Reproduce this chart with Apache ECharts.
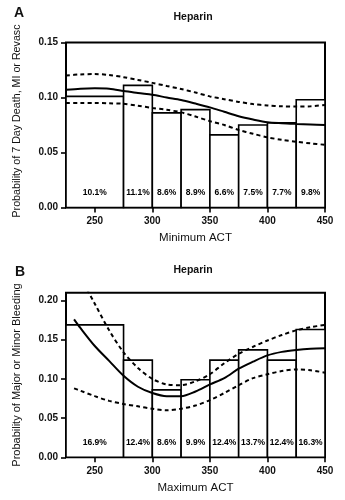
<!DOCTYPE html>
<html>
<head>
<meta charset="utf-8">
<script src="https://cdn.jsdelivr.net/npm/echarts@6.0.0/dist/echarts.min.js"></script>
<style>
  html, body { margin: 0; padding: 0; background: #fff; }
  #chart { width: 345px; height: 500px; }
</style>
</head>
<body>
<div id="chart"></div>
<script>
// ACT bins (seconds) shared by both panels
const binEdges = [225, 275, 300, 325, 350, 375, 400, 425, 450];

// Observed event rates per bin (%)
const minActRates = [10.1, 11.1, 8.6, 8.9, 6.6, 7.5, 7.7, 9.8];
const maxActRates = [16.9, 12.4, 8.6, 9.9, 12.4, 13.7, 12.4, 16.3];

// Panel A: fitted probability with 95% confidence band vs minimum ACT
const minCurveX = [225, 237.5, 250, 262.5, 275, 287.5, 300, 312.5, 325, 337.5, 350, 362.5, 375, 387.5, 400, 412.5, 425, 437.5, 450];
const minFit   = [0.107, 0.108, 0.1083, 0.108, 0.106, 0.104, 0.1025, 0.100, 0.0978, 0.0945, 0.091, 0.087, 0.083, 0.080, 0.0775, 0.0766, 0.0760, 0.0755, 0.0750];
const minUpper = [0.120, 0.121, 0.1213, 0.1205, 0.1185, 0.116, 0.1133, 0.1105, 0.1077, 0.1045, 0.101, 0.0985, 0.096, 0.094, 0.0928, 0.092, 0.0918, 0.092, 0.0932];
const minLower = [0.0949, 0.095, 0.095, 0.0947, 0.0943, 0.0925, 0.0905, 0.0888, 0.0865, 0.0827, 0.0785, 0.075, 0.0705, 0.067, 0.0638, 0.0615, 0.0598, 0.0583, 0.057];

// Panel B: fitted probability with 95% confidence band vs maximum ACT
const maxCurveX = [232, 237.5, 250, 262.5, 275, 287.5, 300, 312.5, 325, 337.5, 350, 362.5, 375, 387.5, 400, 412.5, 425, 437.5, 450];
const maxFit   = [0.176, 0.165, 0.142, 0.123, 0.104, 0.090, 0.082, 0.078, 0.078, 0.084, 0.093, 0.101, 0.113, 0.122, 0.130, 0.1345, 0.137, 0.1385, 0.139];
const maxUpper = [0.247, 0.230, 0.196, 0.162, 0.134, 0.114, 0.100, 0.093, 0.092, 0.097, 0.106, 0.120, 0.132, 0.141, 0.149, 0.156, 0.162, 0.166, 0.169];
const maxLower = [0.088, 0.085, 0.078, 0.072, 0.068, 0.065, 0.062, 0.060, 0.062, 0.066, 0.073, 0.082, 0.092, 0.101, 0.106, 0.110, 0.112, 0.111, 0.108];

// Tick labels
const xTicks = [250, 300, 350, 400, 450];
const yTicksA = [0, 0.05, 0.10, 0.15];
const yTicksB = [0, 0.05, 0.10, 0.15, 0.20];

const FONT = '"Liberation Sans", Arial, Helvetica, sans-serif';

const chart = echarts.init(document.getElementById('chart'), null, { renderer: 'canvas' });

function zip(xs, ys) { return xs.map((x, i) => [x, ys[i]]); }

// Variable-width histogram bars with their rate printed near the base
function histogram(rates, idx) {
  return {
    type: 'custom',
    xAxisIndex: idx,
    yAxisIndex: idx,
    z: 2,
    encode: { x: [0, 1], y: 2 },
    data: rates.map((r, i) => [binEdges[i], binEdges[i + 1], r / 100]),
    renderItem(params, api) {
      const base = api.coord([api.value(0), 0]);
      const top = api.coord([api.value(1), api.value(2)]);
      const pct = (api.value(2) * 100).toFixed(1) + '%';
      return {
        type: 'group',
        children: [
          {
            type: 'rect',
            shape: { x: base[0], y: top[1], width: top[0] - base[0], height: base[1] - top[1] },
            style: { fill: '#fff', stroke: '#000', lineWidth: 1.6 }
          },
          {
            type: 'text',
            style: {
              text: pct,
              x: (base[0] + top[0]) / 2,
              y: base[1] - 15,
              align: 'center',
              verticalAlign: 'middle',
              font: 'bold 8.5px ' + FONT,
              fill: '#000'
            }
          }
        ]
      };
    }
  };
}

function curve(xs, ys, idx, dashed) {
  return {
    type: 'line',
    xAxisIndex: idx,
    yAxisIndex: idx,
    z: 5,
    data: zip(xs, ys),
    showSymbol: false,
    smooth: 0.3,
    clip: true,
    silent: true,
    lineStyle: {
      color: '#000',
      width: 2,
      type: dashed ? [4, 3.2] : 'solid'
    }
  };
}

function xAxis(idx, name, gap) {
  return {
    type: 'value',
    gridIndex: idx,
    min: 225,
    max: 450,
    name: name,
    nameLocation: 'middle',
    nameGap: gap,
    nameTextStyle: { fontFamily: FONT, fontSize: 11.5, color: '#111' },
    axisLine: { show: false },
    splitLine: { show: false },
    axisTick: {
      show: true, length: 5, customValues: xTicks,
      lineStyle: { color: '#000', width: 1.6 }
    },
    axisLabel: {
      customValues: xTicks,
      margin: 9,
      fontFamily: FONT, fontSize: 10, fontWeight: 'bold', color: '#111'
    }
  };
}

function yAxis(idx, max, ticks) {
  return {
    type: 'value',
    gridIndex: idx,
    min: 0,
    max: max,
    interval: 0.05,
    axisLine: { show: false },
    splitLine: { show: false },
    axisTick: {
      show: true, length: 5, customValues: ticks,
      lineStyle: { color: '#000', width: 1.6 }
    },
    axisLabel: {
      customValues: ticks,
      margin: 8,
      formatter: v => v.toFixed(2),
      fontFamily: FONT, fontSize: 10, fontWeight: 'bold', color: '#111'
    }
  };
}

const frame = { show: true, borderColor: '#000', borderWidth: 2, backgroundColor: 'transparent' };

function label(text, x, y, size, weight, rotate) {
  return {
    type: 'text',
    x: x, y: y,
    rotation: rotate ? Math.PI / 2 : 0,
    style: {
      text: text, x: 0, y: 0,
      align: 'center', verticalAlign: 'middle',
      font: (weight || 'normal') + ' ' + size + 'px ' + FONT,
      fill: '#111'
    }
  };
}

chart.setOption({
  animation: false,
  backgroundColor: '#fff',
  grid: [
    Object.assign({ left: 66, width: 259, top: 42.5, height: 165 }, frame),
    Object.assign({ left: 66, width: 259, top: 292.7, height: 164.6 }, frame)
  ],
  xAxis: [xAxis(0, 'Minimum ACT', 24), xAxis(1, 'Maximum ACT', 25)],
  yAxis: [yAxis(0, 0.15, yTicksA), yAxis(1, 0.21, yTicksB)],
  graphic: [
    label('A', 19, 13, 14, 'bold'),
    label('Heparin', 193, 17, 10.5, 'bold'),
    label('Probability of 7 Day Death, MI or Revasc', 17, 121, 10.7, 'normal', true),
    label('B', 20, 272, 14, 'bold'),
    label('Heparin', 193, 270, 10.5, 'bold'),
    label('Probability of Major or Minor Bleeding', 17, 375, 11, 'normal', true)
  ],
  series: [
    histogram(minActRates, 0),
    curve(minCurveX, minFit, 0, false),
    curve(minCurveX, minUpper, 0, true),
    curve(minCurveX, minLower, 0, true),
    histogram(maxActRates, 1),
    curve(maxCurveX, maxFit, 1, false),
    curve(maxCurveX, maxUpper, 1, true),
    curve(maxCurveX, maxLower, 1, true)
  ]
});
</script>
</body>
</html>
